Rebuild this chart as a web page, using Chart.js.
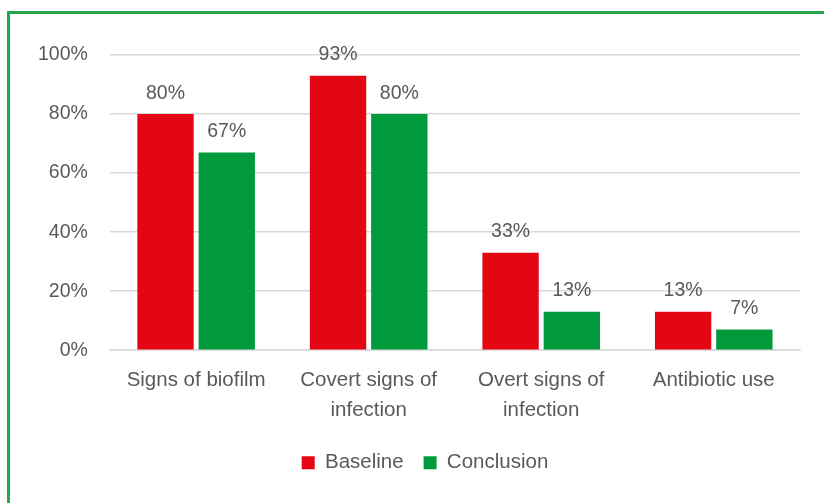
<!DOCTYPE html>
<html>
<head>
<meta charset="utf-8">
<script src="https://cdn.jsdelivr.net/npm/chart.js@4/dist/chart.umd.min.js"></script>
<style>
  html, body { margin: 0; padding: 0; background: #fff; }
  #wrap { position: relative; width: 824px; height: 503px; overflow: hidden; }
  #frame { position: absolute; left: 7px; top: 11px; width: 830px; height: 520px;
           border-top: 3px solid #22a84a; border-left: 3px solid #22a84a; }
  #chart { position: absolute; left: 0; top: 0; }
</style>
</head>
<body>
<div id="wrap">
  <div id="frame"></div>
  <canvas id="chart" width="824" height="503"></canvas>
</div>
<script>
// Data
const categories = [
  'Signs of biofilm',
  ['Covert signs of', 'infection'],
  ['Overt signs of', 'infection'],
  'Antibiotic use'
];
const baseline = [80, 93, 33, 13];
const conclusion = [67, 80, 13, 7];
const yTicks = [0, 20, 40, 60, 80, 100];

const textColor = '#595959';
const fontFamily = '"Liberation Sans", Arial, sans-serif';
const fontSize = 19.5;
const catFontSize = 20.5;

// Simple value labels above bars
const valueLabels = {
  id: 'valueLabels',
  afterDatasetsDraw(chart) {
    const c = chart.ctx;
    c.save();
    c.fillStyle = textColor;
    c.font = fontSize + 'px ' + fontFamily;
    c.textAlign = 'center';
    c.textBaseline = 'bottom';
    chart.data.datasets.forEach((ds, i) => {
      chart.getDatasetMeta(i).data.forEach((bar, j) => {
        c.fillText(ds.data[j] + '%', bar.x, bar.y - 11);
      });
    });
    c.restore();
  }
};

// nudge the legend a bit to the right, like the original
const legendShift = {
  id: 'legendShift',
  afterLayout(chart) {
    if (chart.legend) {
      chart.legend.left += 17;
      chart.legend.right += 17;
    }
  }
};

const ctx = document.getElementById('chart').getContext('2d');
const chart = new Chart(ctx, {
  type: 'bar',
  data: {
    labels: categories,
    datasets: [{
      label: 'Baseline',
      data: baseline,
      backgroundColor: '#e30613',
      categoryPercentage: 0.71,
      barPercentage: 0.92
    }, {
      label: 'Conclusion',
      data: conclusion,
      backgroundColor: '#009a3d',
      categoryPercentage: 0.71,
      barPercentage: 0.92
    }]
  },
  options: {
    responsive: false,
    animation: false,
    layout: { padding: { left: 16, right: 24, top: 55, bottom: 20 } },
    plugins: {
      legend: {
        position: 'bottom',
        labels: {
          color: textColor,
          font: { family: fontFamily, size: catFontSize },
          boxWidth: 13,
          boxHeight: 13,
          padding: 20
        }
      },
      tooltip: { enabled: false }
    },
    scales: {
      x: {
        grid: { display: false },
        border: { color: '#d9d9d9', width: 1.5 },
        ticks: {
          color: textColor,
          font: { family: fontFamily, size: catFontSize, lineHeight: 1.47 },
          maxRotation: 0,
          padding: 7
        }
      },
      y: {
        min: 0,
        max: 100,
        afterBuildTicks(axis) {
          axis.ticks = yTicks.map(v => ({ value: v }));
        },
        grid: { color: '#d9d9d9', lineWidth: 1.5, drawTicks: false },
        border: { display: false },
        ticks: {
          color: textColor,
          font: { family: fontFamily, size: fontSize },
          padding: 22,
          callback: v => v + '%'
        }
      }
    }
  },
  plugins: [valueLabels, legendShift]
});
</script>
</body>
</html>
